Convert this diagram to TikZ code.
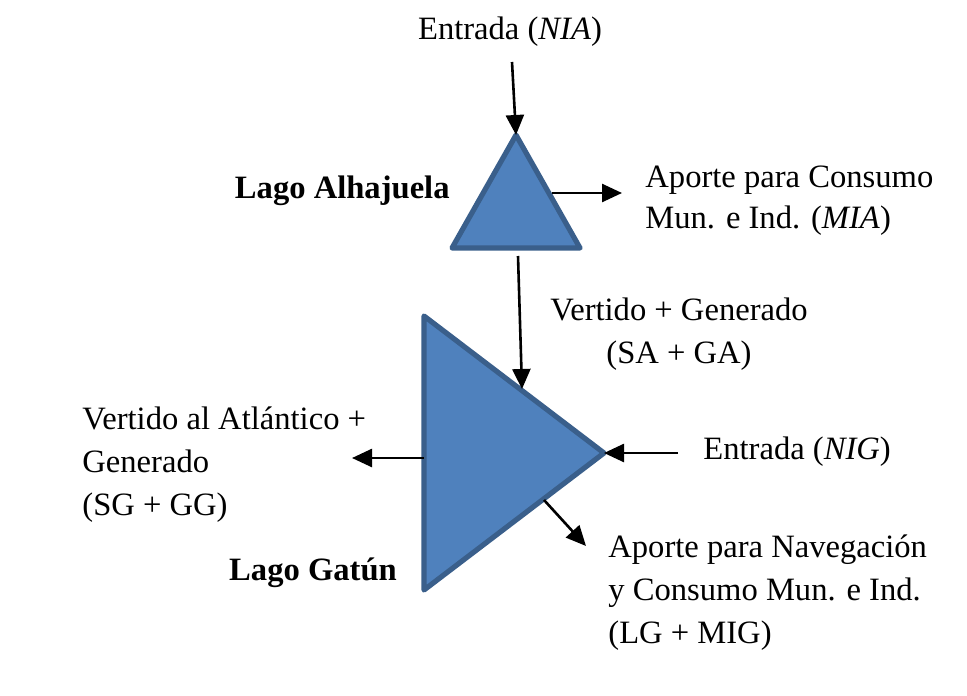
\documentclass[tikz,border=0pt]{standalone}
\usepackage{fontspec}
\setmainfont{Liberation Serif}
\usetikzlibrary{arrows.meta}
\definecolor{lakefill}{HTML}{4F81BD}
\definecolor{lakeedge}{HTML}{3A5F8B}
\begin{document}
\begin{tikzpicture}[x=0.5pt,y=-0.5pt,
  lake/.style={fill=lakefill,draw=lakeedge,line width=2.6pt,line join=round},
  flow/.style={line width=1.3pt,-{Triangle[length=10pt,width=9pt]}},
  lbl/.style={inner sep=0pt,font=\fontsize{16.3}{20}\selectfont},
  lbl2/.style={inner sep=0pt,font=\fontsize{16.3}{21.5}\selectfont},
  title/.style={inner sep=0pt,font=\fontsize{16.3}{20}\selectfont\bfseries}]
\useasboundingbox (0,0) rectangle (967,695);
% Lago Alhajuela
\coordinate (aTop) at (516,135);
\coordinate (aBL) at (452,248);
\coordinate (aBR) at (580,248);
\draw[lake] (aTop) -- (aBR) -- (aBL) -- cycle;
% Lago Gatun
\coordinate (gTL) at (424,316);
\coordinate (gBL) at (424,590);
\coordinate (gTip) at (604,453);
\draw[lake] (gTL) -- (gTip) -- (gBL) -- cycle;
% texts
\node[lbl] (inA) at (510,32) {Entrada (\textit{NIA})};
\node[lbl,anchor=west] (mia) at (645,200) {\begin{tabular}{@{}l@{}}Aporte para Consumo\\Mun. e Ind. (\textit{MIA})\end{tabular}};
\node[title,anchor=east] (la) at (450,191) {Lago Alhajuela};
\node[lbl2,align=center] (sa) at (679,334) {Vertido + Generado\\(SA + GA)};
\node[lbl2,align=left,anchor=west] (sg) at (82,465) {Vertido al Atlántico +\\Generado\\(SG + GG)};
\node[lbl,anchor=west] (inG) at (703,452) {Entrada (\textit{NIG})};
\node[lbl2,align=left,anchor=west] (lg) at (608,593) {Aporte para Navegación\\y Consumo Mun. e Ind.\\(LG + MIG)};
\node[title] (lgat) at (313,573) {Lago Gatún};
% connector coordinates
\coordinate (inAs) at (512,62);
\coordinate (miaS) at (552,193);
\coordinate (miaE) at (622,193);
\coordinate (spS) at (518,256);
\coordinate (spE) at (522,389);
\coordinate (sgS) at (424,458);
\coordinate (sgE) at (352,458);
\coordinate (inGs) at (678,453);
\coordinate (lgS) at (544,500);
\coordinate (lgE) at (586,546);
% connectors
\draw[flow] (inAs) -- (aTop);
\draw[flow] (miaS) -- (miaE);
\draw[flow] (spS) -- (spE);
\draw[flow] (sgS) -- (sgE);
\draw[flow] (inGs) -- (gTip);
\draw[flow] (lgS) -- (lgE);
\end{tikzpicture}
\end{document}
